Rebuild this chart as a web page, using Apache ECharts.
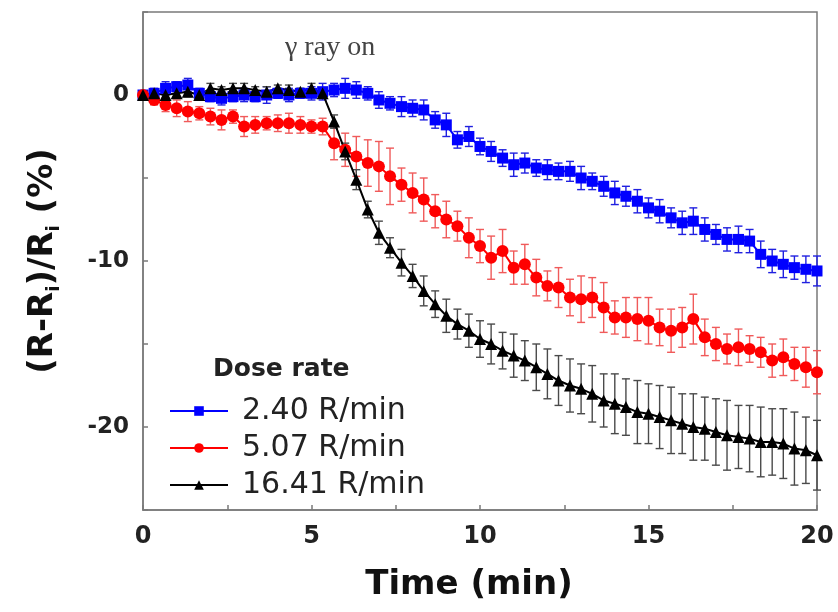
<!DOCTYPE html>
<html>
<head>
<meta charset="utf-8">
<title>Dose rate</title>
<script src="https://cdn.jsdelivr.net/npm/echarts@6/dist/echarts.min.js"></script>
<style>
  html, body { margin: 0; padding: 0; background: #fff; }
  #main { width: 838px; height: 612px; }
</style>
</head>
<body>
<div id="main"></div>
<script>
// time (min)
var times = [0, 0.33, 0.67, 1, 1.33, 1.67, 2, 2.33, 2.67, 3, 3.33, 3.67, 4, 4.33, 4.67, 5, 5.33, 5.67, 6, 6.33,
  6.67, 7, 7.33, 7.67, 8, 8.33, 8.67, 9, 9.33, 9.67, 10, 10.33, 10.67, 11, 11.33, 11.67, 12, 12.33, 12.67, 13,
  13.33, 13.67, 14, 14.33, 14.67, 15, 15.33, 15.67, 16, 16.33, 16.67, 17, 17.33, 17.67, 18, 18.33, 18.67, 19, 19.33, 19.67, 20];

var names = ['2.40 R/min', '5.07 R/min', '16.41 R/min'];

// 2.40 R/min
var blue = [0, 0.1, 0.4, 0.5, 0.6, 0.1, -0.1, -0.2, -0.1, 0, -0.1, 0, 0.1, 0, 0.1, 0.1, 0.2, 0.3, 0.4, 0.3,
  0.1, -0.3, -0.5, -0.7, -0.8, -0.9, -1.5, -1.8, -2.7, -2.5, -3.1, -3.4, -3.8, -4.2, -4.1, -4.4, -4.5, -4.6, -4.6, -5.0,
  -5.2, -5.5, -5.9, -6.1, -6.4, -6.8, -7.0, -7.4, -7.7, -7.6, -8.1, -8.4, -8.7, -8.7, -8.8, -9.6, -10.0, -10.2, -10.4, -10.5, -10.6];
var blueErr = [0.2, 0.3, 0.4, 0.3, 0.4, 0.3, 0.3, 0.4, 0.3, 0.4, 0.3, 0.5, 0.3, 0.4, 0.3, 0.4, 0.5, 0.4, 0.6, 0.5,
  0.4, 0.5, 0.4, 0.6, 0.5, 0.6, 0.5, 0.7, 0.5, 0.6, 0.5, 0.6, 0.5, 0.7, 0.6, 0.5, 0.6, 0.5, 0.6, 0.7,
  0.5, 0.6, 0.7, 0.6, 0.7, 0.6, 0.7, 0.6, 0.7, 0.8, 0.7, 0.6, 0.7, 0.8, 0.7, 0.8, 0.7, 0.8, 0.7, 0.8, 0.9];

// 5.07 R/min
var red = [0, -0.3, -0.6, -0.8, -1.0, -1.1, -1.3, -1.5, -1.3, -1.9, -1.8, -1.7, -1.7, -1.7, -1.8, -1.9, -1.9, -2.9, -3.3, -3.7,
  -4.1, -4.3, -4.9, -5.4, -5.9, -6.3, -7.0, -7.5, -7.9, -8.6, -9.1, -9.8, -9.4, -10.4, -10.2, -11.0, -11.5, -11.6, -12.2, -12.3,
  -12.2, -12.8, -13.4, -13.4, -13.5, -13.6, -14.0, -14.2, -14.0, -13.5, -14.6, -15.0, -15.3, -15.2, -15.3, -15.5, -16.0, -15.8, -16.2, -16.4, -16.7];
var redErr = [0.2, 0.3, 0.4, 0.5, 0.6, 0.4, 0.5, 0.6, 0.4, 0.6, 0.5, 0.4, 0.5, 0.6, 0.5, 0.4, 0.5, 1.0, 1.0, 1.2,
  1.4, 1.5, 1.7, 1.0, 1.2, 1.3, 1.0, 1.1, 0.9, 1.2, 1.0, 1.3, 1.3, 1.0, 1.2, 1.1, 0.9, 1.2, 1.1, 1.4,
  1.2, 1.5, 1.0, 1.2, 1.3, 1.4, 1.1, 1.3, 1.2, 1.5, 1.1, 1.0, 0.9, 1.1, 0.8, 0.9, 1.0, 1.1, 1.0, 1.2, 1.3];

// 16.41 R/min
var black = [0, 0.1, 0, 0.1, 0.2, 0, 0.4, 0.3, 0.4, 0.4, 0.3, 0.2, 0.4, 0.3, 0.2, 0.4, 0.1, -1.6, -3.4, -5.1,
  -6.9, -8.3, -9.2, -10.1, -10.9, -11.8, -12.6, -13.3, -13.8, -14.2, -14.7, -15.0, -15.4, -15.7, -16.0, -16.4, -16.8, -17.2, -17.5, -17.7,
  -18.0, -18.4, -18.6, -18.8, -19.1, -19.2, -19.4, -19.6, -19.8, -20.0, -20.1, -20.3, -20.5, -20.6, -20.7, -20.9, -20.9, -21.0, -21.3, -21.4, -21.7];
var blackErr = [0.1, 0.2, 0.2, 0.2, 0.3, 0.2, 0.3, 0.2, 0.3, 0.3, 0.2, 0.3, 0.2, 0.3, 0.2, 0.3, 0.3, 0.4, 0.5, 0.6,
  0.5, 0.7, 0.6, 0.8, 0.7, 0.9, 0.8, 1.0, 0.9, 1.0, 1.1, 1.2, 1.1, 1.3, 1.2, 1.4, 1.5, 1.5, 1.6, 1.5,
  1.7, 1.6, 1.8, 1.7, 1.9, 1.8, 1.9, 2.0, 1.8, 2.0, 1.9, 2.0, 2.1, 1.9, 2.0, 2.1, 2.0, 2.1, 2.2, 2.0, 2.1];

var xTicks = [0, 5, 10, 15, 20];
var yTicks = [-20, -10, 0];

var chart = echarts.init(document.getElementById('main'));

function pairs(vals) {
  return times.map(function (t, i) { return [t, vals[i]]; });
}

// vertical error bar with caps, drawn through the axes
function errorBars(id, vals, errs, color) {
  return {
    type: 'custom',
    name: id,
    z: 1,
    silent: true,
    data: times.map(function (t, i) { return [t, vals[i] - errs[i], vals[i] + errs[i]]; }),
    encode: { x: 0, y: [1, 2] },
    renderItem: function (params, api) {
      var x = api.value(0);
      var lo = api.coord([x, api.value(1)]);
      var hi = api.coord([x, api.value(2)]);
      var w = 4;
      var st = { stroke: color, lineWidth: 1.4 };
      return {
        type: 'group',
        children: [
          { type: 'line', shape: { x1: lo[0], y1: lo[1], x2: hi[0], y2: hi[1] }, style: st },
          { type: 'line', shape: { x1: lo[0] - w, y1: lo[1], x2: lo[0] + w, y2: lo[1] }, style: st },
          { type: 'line', shape: { x1: hi[0] - w, y1: hi[1], x2: hi[0] + w, y2: hi[1] }, style: st }
        ]
      };
    }
  };
}

function lineSeries(name, vals, color, symbol, size) {
  return {
    type: 'line',
    name: name,
    z: 3,
    data: pairs(vals),
    symbol: symbol,
    symbolSize: size,
    showAllSymbol: true,
    lineStyle: { color: color, width: 2 },
    itemStyle: { color: color }
  };
}

var axisGray = '#7a7a7a';
var boldFont = 'DejaVu Sans';

var option = {
  backgroundColor: '#fff',
  animation: false,
  grid: { left: 143, right: 21, top: 12, bottom: 102, show: true, borderColor: axisGray, borderWidth: 1.5 },
  legend: {
    data: names,
    orient: 'vertical',
    left: 169,
    top: 396,
    padding: 0,
    itemWidth: 58,
    itemHeight: 12,
    itemGap: 7,
    textStyle: { fontFamily: 'DejaVu Sans', fontSize: 30, lineHeight: 30, color: '#222', padding: [0, 0, 0, 9] }
  },
  graphic: [
    { type: 'text', left: 285, top: 34, style: { text: 'γ ray on', fontFamily: 'Liberation Serif', fontSize: 28, fill: '#444' } },
    { type: 'text', left: 213, top: 357, style: { text: 'Dose rate', fontFamily: boldFont, fontWeight: 'bold', fontSize: 25, fill: '#222' } }
  ],
  xAxis: {
    type: 'value',
    min: 0,
    max: 20,
    interval: 2.5,
    name: 'Time (min)',
    nameLocation: 'middle',
    nameGap: 58,
    nameTextStyle: { fontFamily: boldFont, fontWeight: 'bold', fontSize: 34, color: '#111', padding: [0, 22, 0, 0] },
    axisLine: { onZero: false, lineStyle: { color: axisGray, width: 1.5 } },
    axisTick: { inside: true, length: 5, lineStyle: { color: axisGray, width: 1.5 } },
    axisLabel: {
      margin: 15,
      fontFamily: boldFont, fontWeight: 'bold', fontSize: 24, color: '#222',
      formatter: function (v) { return xTicks.indexOf(v) >= 0 ? String(v) : ''; }
    },
    splitLine: { show: false }
  },
  yAxis: {
    type: 'value',
    min: -25,
    max: 5,
    interval: 5,
    name: '{b|(R-R}{s|i}{b|)/R}{s|i}{b| (%)}',
    nameLocation: 'middle',
    nameGap: 80,
    nameTextStyle: {
      rich: {
        b: { fontFamily: boldFont, fontWeight: 'bold', fontSize: 34, color: '#111', lineHeight: 40 },
        s: { fontFamily: boldFont, fontWeight: 'bold', fontSize: 18, color: '#111', lineHeight: 40, verticalAlign: 'bottom', padding: [14, 0, 0, 0] }
      }
    },
    axisLine: { show: true, onZero: false, lineStyle: { color: axisGray, width: 1.5 } },
    axisTick: { show: true, inside: true, length: 5, lineStyle: { color: axisGray, width: 1.5 } },
    axisLabel: {
      margin: 14,
      fontFamily: boldFont, fontWeight: 'bold', fontSize: 23, color: '#222',
      formatter: function (v) { return yTicks.indexOf(v) >= 0 ? String(v) : ''; }
    },
    splitLine: { show: false }
  },
  series: [
    errorBars('err-blue', blue, blueErr, '#2020e0'),
    errorBars('err-red', red, redErr, '#f05a5a'),
    errorBars('err-black', black, blackErr, '#4a4a4a'),
    lineSeries(names[0], blue, '#0000ff', 'rect', 11),
    lineSeries(names[1], red, '#ff0000', 'circle', 12),
    lineSeries(names[2], black, '#000000', 'triangle', 12)
  ]
};

chart.setOption(option);
</script>
</body>
</html>
